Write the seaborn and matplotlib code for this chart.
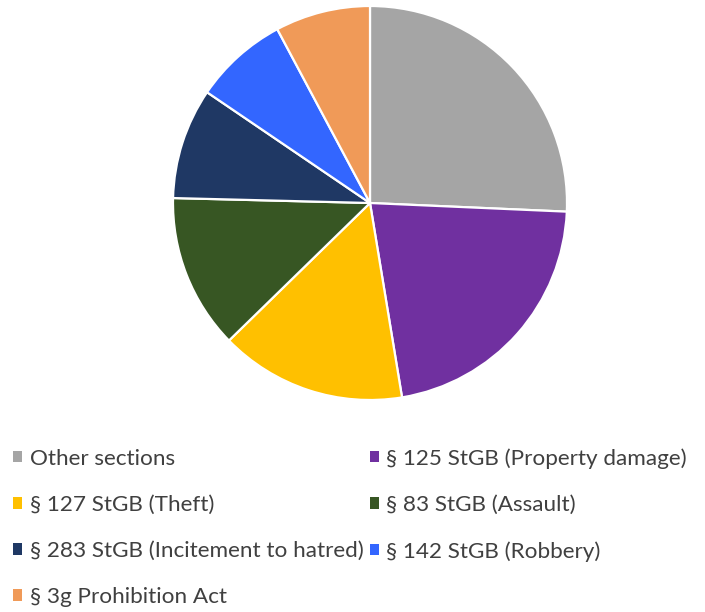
import matplotlib
matplotlib.use("Agg")
import matplotlib.pyplot as plt
from matplotlib.patches import Patch
import seaborn as sns

categories = [
    "Other sections",
    "§ 125 StGB (Property damage)",
    "§ 127 StGB (Theft)",
    "§ 83 StGB (Assault)",
    "§ 283 StGB (Incitement to hatred)",
    "§ 142 StGB (Robbery)",
    "§ 3g Prohibition Act",
]
shares = [25.7, 21.7, 15.3, 12.7, 9.1, 7.7, 7.8]
hex_colors = ["#A5A5A5", "#7030A0", "#FFC000", "#375623", "#1F3864", "#3366FF", "#F09A58"]

sns.set_theme(style="white")
plt.rcParams["font.family"] = ["Lato", "DejaVu Sans"]
palette = sns.color_palette(hex_colors)

fig = plt.figure(figsize=(7.05, 6.12), dpi=100)
r = 197
cx, cy = 370, 203
ax = fig.add_axes([(cx - r) / 705, (612 - cy - r) / 612, 2 * r / 705, 2 * r / 612])
ax.pie(shares, colors=palette, startangle=90, counterclock=False,
       wedgeprops=dict(edgecolor="white", linewidth=1.6))
ax.set_xlim(-1, 1)
ax.set_ylim(-1, 1)
ax.set_aspect("equal")
ax.axis("off")

# legend laid out row by row: two entries per row
order = [0, 2, 4, 6, 1, 3, 5]
handles = [Patch(facecolor=palette[i], edgecolor="none", label=categories[i]) for i in order]
fig.legend(handles=handles, ncol=2, loc="upper left",
           bbox_to_anchor=(-7 / 705, 1 - 428 / 612), frameon=False,
           fontsize=16.2, handlelength=0.4, handleheight=0.4, handletextpad=0.35,
           columnspacing=0.25, labelspacing=1.16, labelcolor="#404040")

fig.savefig("out.png", dpi=100, facecolor="white")
